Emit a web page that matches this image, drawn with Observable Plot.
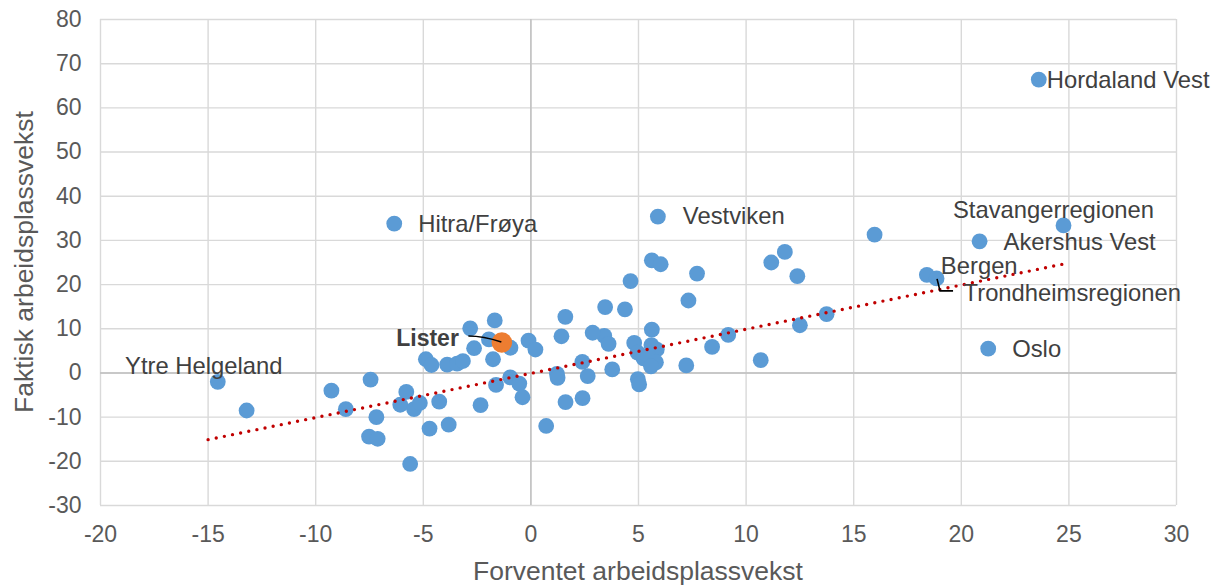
<!DOCTYPE html>
<html><head><meta charset="utf-8">
<script src="https://cdn.jsdelivr.net/npm/d3@7"></script>
<script src="https://cdn.jsdelivr.net/npm/@observablehq/plot@0.6"></script>
<style>body{margin:0;background:#fff;overflow:hidden} svg{display:block}</style>
</head><body><div id="chart"></div>
<script>
// Unlabelled regions: expected (x) and actual (y) job growth
const regionX = [15.97, 11.8, 11.17, 12.38, 5.62, 6.03, 7.72, 4.63, 7.32, 3.45, 4.37, 13.74, 12.5, 9.17, 8.42, 10.68, 7.22,
  5.62, 3.41, 2.87, 3.61, 4.8, 5.6, 5.85, 4.96, 5.23, 5.45, 5.81, 5.58, 3.78, 4.97, 5.03, 2.39, 2.64, 1.21, 1.24, 1.6, 1.42,
  1.61, 2.4, 0.71, -0.11, 0.21, -0.95, -1.68, -2.82, -2.64, -1.95, -1.76, -0.96, -0.54, -0.39, -1.62, -2.34,
  -4.88, -4.62, -3.89, -3.43, -3.16, -7.45, -9.27, -8.6, -5.79, -6.07, -5.43, -5.16, -4.26, -7.18, -4.71, -3.82,
  -7.52, -7.12, -5.61, -13.21];
const regionY = [31.3, 27.4, 25.0, 21.9, 25.5, 24.6, 22.5, 20.8, 16.4, 14.9, 14.4, 13.3, 10.8, 8.6, 5.9, 2.9, 1.7,
  9.8, 8.4, 9.1, 6.6, 6.8, 6.3, 5.3, 4.6, 3.3, 3.9, 2.4, 1.5, 0.8, -1.4, -2.6, 2.5, -0.7, -0.2, -1.1, 12.7, 8.3,
  -6.6, -5.7, -12.0, 7.3, 5.3, 5.7, 11.9, 10.1, 5.6, 7.6, 3.1, -1.0, -2.4, -5.5, -2.7, -7.3,
  3.1, 1.8, 1.9, 2.1, 2.7, -1.5, -4.0, -8.2, -4.3, -7.2, -8.2, -6.8, -6.5, -10.0, -12.6, -11.7,
  -14.4, -14.9, -20.6, -8.5];
// Labelled regions
const labelNames = ["Hordaland Vest", "Stavangerregionen", "Akershus Vest", "Bergen", "Trondheimsregionen",
  "Oslo", "Vestviken", "Hitra/Frøya", "Ytre Helgeland"];
const labelX = [23.6, 24.75, 20.85, 18.4, 18.85, 21.25, 5.9, -6.35, -14.55];
const labelY = [66.4, 33.4, 29.8, 22.2, 21.4, 5.5, 35.4, 33.8, -2.0];
// Highlighted region
const highlightName = "Lister";
const highlightX = -1.35;
const highlightY = 6.9;
// Linear trend (endpoints)
const trendX = [-15, 25];
const trendY = [-15.1, 24.9];
// Axes
const xTicks = [-20, -15, -10, -5, 0, 5, 10, 15, 20, 25, 30];
const yTicks = [-30, -20, -10, 0, 10, 20, 30, 40, 50, 60, 70, 80];
const xTitle = "Forventet arbeidsplassvekst";
const yTitle = "Faktisk arbeidsplassvekst";

const FONT = "'Liberation Sans', Arial, sans-serif";
const BLUE = "#5b9bd5", ORANGE = "#ed7d31", RED = "#c00000", GRID = "#d9d9d9", AXIS = "#bfbfbf";

const points = regionX.map((x, i) => ({x, y: regionY[i]}));
const labeled = labelNames.map((name, i) => ({name, x: labelX[i], y: labelY[i]}));
const trend = trendX.map((x, i) => ({x, y: trendY[i]}));
const highlight = [{name: highlightName, x: highlightX, y: highlightY}];

const labelPlacement = {
  "Hordaland Vest": {textAnchor: "start", dx: 8, dy: 1},
  "Stavangerregionen": {textAnchor: "middle", dx: -10, dy: -15},
  "Akershus Vest": {textAnchor: "start", dx: 24, dy: 1},
  "Bergen": {textAnchor: "start", dx: 14, dy: -8},
  "Trondheimsregionen": {textAnchor: "start", dx: 27, dy: 15},
  "Oslo": {textAnchor: "start", dx: 24, dy: 1},
  "Vestviken": {textAnchor: "start", dx: 25, dy: 0},
  "Hitra/Frøya": {textAnchor: "start", dx: 24, dy: 1},
  "Ytre Helgeland": {textAnchor: "middle", dx: -14, dy: -15}
};

const labelMarks = labeled.map(d => Plot.text([d], {
  x: "x", y: "y", text: "name", fill: "#404040", fontSize: 23.8, fontFamily: FONT,
  ...labelPlacement[d.name]
}));

const fmt = d => String(d);

const chart = Plot.plot({
  width: 1219,
  height: 585,
  marginLeft: 100,
  marginRight: 43,
  marginTop: 19,
  marginBottom: 80,
  style: {fontFamily: FONT, fontSize: "23px", color: "#595959", background: "#fff"},
  x: {domain: [-20, 30], ticks: xTicks, tickFormat: fmt, tickSize: 0, tickPadding: 20, label: null},
  y: {domain: [-30, 80], ticks: yTicks, tickFormat: fmt, tickSize: 0, tickPadding: 19, label: null},
  marks: [
    Plot.gridX(xTicks, {stroke: GRID, strokeOpacity: 1, strokeWidth: 1.4}),
    Plot.gridY(yTicks, {stroke: GRID, strokeOpacity: 1, strokeWidth: 1.4}),
    Plot.ruleX([0], {stroke: AXIS, strokeWidth: 1.4}),
    Plot.ruleY([0], {stroke: AXIS, strokeWidth: 1.4}),
    Plot.dot(points, {x: "x", y: "y", r: 7.9, fill: BLUE}),
    Plot.dot(labeled, {x: "x", y: "y", r: 7.9, fill: BLUE}),
    Plot.dot(highlight, {x: "x", y: "y", r: 10.3, fill: ORANGE}),
    Plot.line(trend, {x: "x", y: "y", stroke: RED, strokeWidth: 3.4, strokeDasharray: "0 8.3", strokeLinecap: "round"}),
    ...labelMarks,
    Plot.text(highlight, {x: "x", y: "y", text: "name", textAnchor: "end", dx: -43, dy: -4,
      fontWeight: "bold", fontSize: 23, fill: "#404040", fontFamily: FONT})
  ]
});

document.getElementById("chart").appendChild(chart);

// Leader lines and axis titles
const sx = chart.scale("x"), sy = chart.scale("y");
const svg = d3.select(chart);
const lx = sx.apply(highlightX), ly = sy.apply(highlightY);
svg.append("path")
  .attr("d", `M${lx - 33},${ly - 6} Q${lx - 18},${ly - 6} ${lx},${ly}`)
  .attr("fill", "none").attr("stroke", "#000").attr("stroke-width", 1.6);
const t = labeled.find(d => d.name === "Trondheimsregionen");
const tx = sx.apply(t.x), ty = sy.apply(t.y);
svg.append("path")
  .attr("d", `M${tx + 1},${ty + 1} L${tx + 4},${ty + 13} L${tx + 17},${ty + 13}`)
  .attr("fill", "none").attr("stroke", "#000").attr("stroke-width", 1.6);

svg.append("text")
  .attr("x", (100 + 1219 - 43) / 2).attr("y", 580)
  .attr("text-anchor", "middle").attr("fill", "#595959")
  .style("font-size", "26.5px").style("font-family", FONT)
  .text(xTitle);
svg.append("text")
  .attr("transform", `translate(33,${(19 + 505) / 2}) rotate(-90)`)
  .attr("text-anchor", "middle").attr("fill", "#595959")
  .style("font-size", "26.5px").style("font-family", FONT)
  .text(yTitle);
</script>
</body></html>
